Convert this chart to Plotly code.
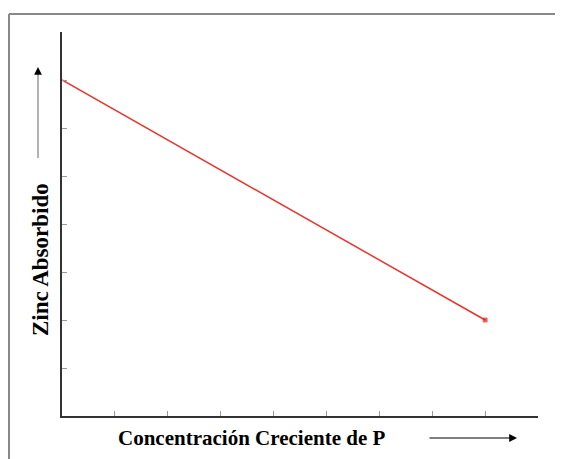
import plotly.graph_objects as go

# Data
x_vals = [0, 8]
y_vals = [7, 2]
x_ticks = [1, 2, 3, 4, 5, 6, 7, 8, 9]
y_ticks = [1, 2, 3, 4, 5, 6, 7, 8]
x_title = "Concentración Creciente de P"
y_title = "Zinc Absorbido"

OFF = 8  # page body margin offset
W, H = 563 - OFF, 459 - OFF
# plot area in page pixels: x 62..538, y 32..416
L, T = 62 - OFF, 32 - OFF
R = W - (538 - OFF)
B = H - (416 - OFF)
PW, PH = W - L - R, H - T - B

def px(xp):
    return (xp - OFF - L) / PW

def py(yp):
    return (H - B - (yp - OFF)) / PH

fig = go.Figure()
fig.add_trace(go.Scatter(
    x=x_vals, y=y_vals, mode="lines+markers",
    line=dict(color="#e8342c", width=1.5),
    marker=dict(symbol="square", size=[0, 4], color="#e8160f"),
    showlegend=False, hoverinfo="skip",
))

axis_common = dict(
    showline=True, linecolor="#333333", linewidth=2,
    ticks="inside", ticklen=5, tickcolor="#999999", tickwidth=1,
    showticklabels=False, showgrid=False, zeroline=False, mirror=False,
)
fig.update_xaxes(range=[0, 9], tickvals=x_ticks, **axis_common)
fig.update_yaxes(range=[0, 8], tickvals=y_ticks, **axis_common)

serif = "Liberation Serif, Times New Roman, serif"

fig.update_layout(
    width=W, height=H,
    margin=dict(l=L, r=R, t=T, b=B),
    paper_bgcolor="white", plot_bgcolor="white",
    shapes=[
        # frame
        dict(type="line", xref="paper", yref="paper",
             x0=px(9), y0=py(470), x1=px(9), y1=py(14),
             line=dict(color="#888888", width=2)),
        dict(type="line", xref="paper", yref="paper",
             x0=px(9), y0=py(14), x1=px(575), y1=py(14),
             line=dict(color="#888888", width=2)),
        # y arrow shaft (gray)
        dict(type="line", xref="paper", yref="paper",
             x0=px(38), y0=py(158), x1=px(38), y1=py(74),
             line=dict(color="#999999", width=1.5)),
    ],
    annotations=[
        dict(text="<b>" + x_title + "</b>", xref="paper", yref="paper",
             x=px(251), y=py(438), showarrow=False,
             font=dict(family=serif, size=21, color="black"),
             xanchor="center", yanchor="middle"),
        dict(text="<b>" + y_title + "</b>", xref="paper", yref="paper",
             x=px(40), y=py(260), showarrow=False, textangle=-90,
             font=dict(family=serif, size=23, color="black"),
             xanchor="center", yanchor="middle"),
        # x arrow
        dict(text="", xref="paper", yref="paper",
             x=px(517), y=py(438), ax=-89, ay=0, axref="pixel", ayref="pixel",
             showarrow=True, arrowhead=2, arrowsize=1.3, arrowwidth=1.2,
             arrowcolor="black", standoff=0),
        # y arrow head
        dict(text="", xref="paper", yref="paper",
             x=px(38), y=py(67), ax=0, ay=8, axref="pixel", ayref="pixel",
             showarrow=True, arrowhead=2, arrowsize=1.3, arrowwidth=1.2,
             arrowcolor="black", standoff=0),
    ],
)

fig.write_html("out.html")
